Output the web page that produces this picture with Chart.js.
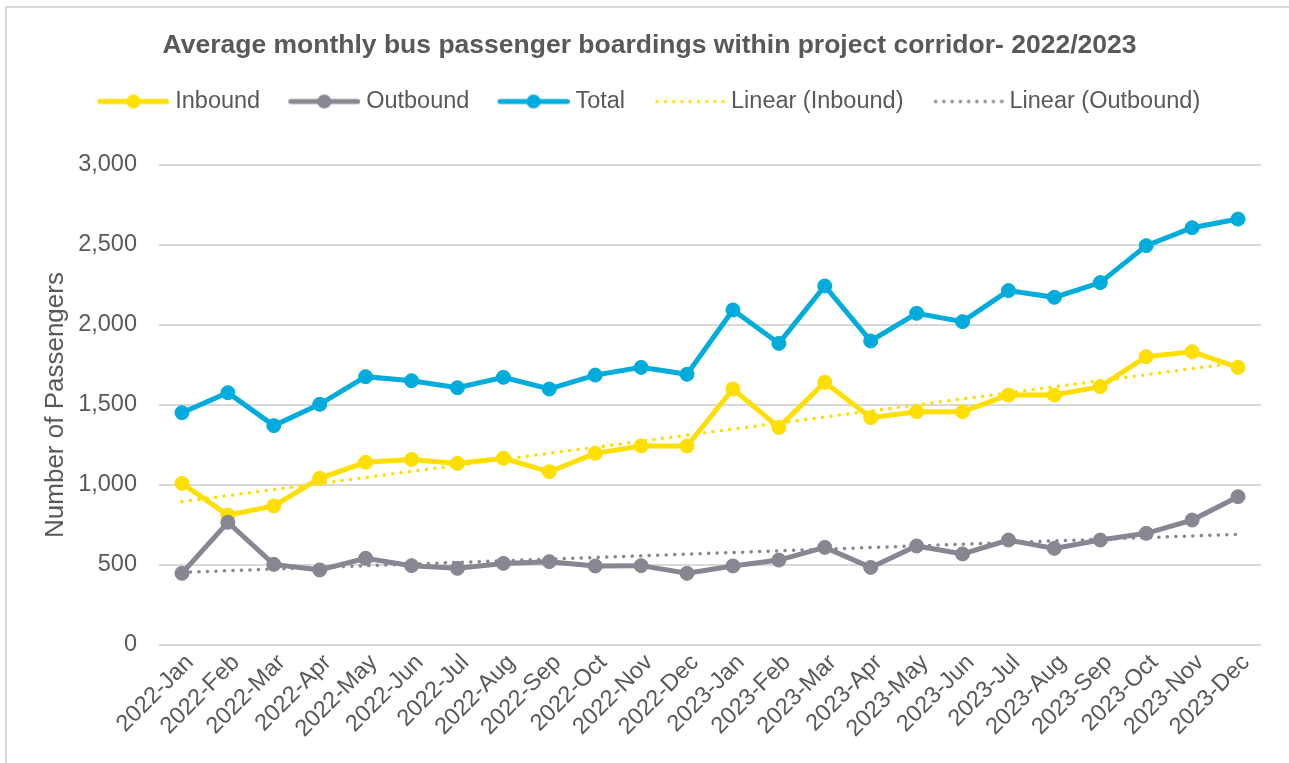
<!DOCTYPE html>
<html>
<head>
<meta charset="utf-8">
<script src="https://cdn.jsdelivr.net/npm/chart.js@4.4.1/dist/chart.umd.min.js"></script>
<style>
html,body{margin:0;padding:0;background:#fff;overflow:hidden;}
canvas{display:block;}
</style>
</head>
<body>
<canvas id="c" width="1289" height="763"></canvas>
<script>
const categories = ['2022-Jan','2022-Feb','2022-Mar','2022-Apr','2022-May','2022-Jun','2022-Jul','2022-Aug','2022-Sep','2022-Oct','2022-Nov','2022-Dec',
                    '2023-Jan','2023-Feb','2023-Mar','2023-Apr','2023-May','2023-Jun','2023-Jul','2023-Aug','2023-Sep','2023-Oct','2023-Nov','2023-Dec'];
const inbound  = [1010, 812, 869,1042,1142,1160,1135,1167,1083,1198,1244,1244,1600,1360,1642,1421,1458,1458,1562,1562,1615,1802,1833,1735];
const outbound = [ 448, 767, 504, 469, 542, 496, 479, 510, 521, 494, 496, 448, 494, 531, 610, 485, 619, 569, 656, 604, 656, 698, 781, 927];
const total    = [1452,1577,1371,1504,1677,1652,1608,1673,1600,1687,1735,1692,2094,1885,2244,1900,2073,2021,2215,2173,2265,2496,2608,2662];
const trendInbound  = [896, 1765];   // trend line ends (first / last month)
const trendOutbound = [454, 692];
const yTickLabels = ['0','500','1,000','1,500','2,000','2,500','3,000'];
const legendTexts = ['Inbound','Outbound','Total','Linear (Inbound)','Linear (Outbound)   '];

const YEL = '#FFDF00', GRY = '#868791', BLU = '#00ACDB', TXT = '#595959';
const FAM = "'Liberation Sans', Arial, sans-serif";
Chart.defaults.font.family = FAM;

function symbol(color, dotted, visW) {
  const W = 96, H = 18;
  const c = document.createElement('canvas'); c.width = W; c.height = H;
  const g = c.getContext('2d');
  const x0 = W - visW, x1 = W;
  g.fillStyle = color; g.strokeStyle = color;
  if (!dotted) {
    g.lineWidth = 5; g.lineCap = 'round';
    g.beginPath(); g.moveTo(x0 + 2.5, 9); g.lineTo(x1 - 2.5, 9); g.stroke();
    g.beginPath(); g.arc((x0 + x1) / 2, 9, 7, 0, Math.PI * 2); g.fill();
  } else {
    for (let i = 0; i < 9; i++) {
      const x = x0 + 2 + i * (visW - 4) / 8;
      g.beginPath(); g.arc(x, 9, 1.8, 0, Math.PI * 2); g.fill();
    }
  }
  return c;
}
const symbols = [symbol(YEL,false,72), symbol(GRY,false,72), symbol(BLU,false,72), symbol(YEL,true,70), symbol(GRY,true,70)];

const bgPlugin = {
  id: 'bgBorder',
  beforeDraw(chart) {
    const ctx = chart.ctx, w = chart.width, h = chart.height;
    ctx.save();
    ctx.fillStyle = '#fff'; ctx.fillRect(0, 0, w, h);
    ctx.fillStyle = '#D9D9D9';
    ctx.fillRect(5, 6, 2, h);
    ctx.fillRect(5, 6, w, 2);
    ctx.restore();
  }
};

function lineDs(label, data, color, order) {
  return { label, data, borderColor: color, backgroundColor: color, borderWidth: 5,
    pointRadius: 7, pointBorderWidth: 1, pointBackgroundColor: color, pointBorderColor: color,
    tension: 0, order };
}
function trendDs(label, ends, color, order) {
  return { label, data: [{x: categories[0], y: ends[0]}, {x: categories[categories.length - 1], y: ends[1]}],
    borderColor: color, backgroundColor: color, borderWidth: 3.5, borderDash: [0.1, 8.4], borderCapStyle: 'round',
    pointRadius: 0, tension: 0, order };
}

new Chart(document.getElementById('c'), {
  type: 'line',
  data: {
    labels: categories,
    datasets: [
      lineDs('Inbound', inbound, YEL, 5),
      lineDs('Outbound', outbound, GRY, 4),
      lineDs('Total', total, BLU, 3),
      trendDs('Linear (Inbound)', trendInbound, YEL, 2),
      trendDs('Linear (Outbound)', trendOutbound, GRY, 1)
    ]
  },
  options: {
    responsive: false,
    animation: false,
    events: [],
    layout: { padding: { left: 38, right: 28, top: 0, bottom: 0 } },
    plugins: {
      tooltip: { enabled: false },
      title: { display: true, text: 'Average monthly bus passenger boardings within project corridor- 2022/2023',
        color: TXT, font: { size: 26.5, weight: 'bold', lineHeight: 1.2 }, padding: { top: 29.4, bottom: 18.55 } },
      subtitle: { display: true, text: '', position: 'top', weight: 100, font: { size: 1, lineHeight: 1 }, padding: { top: 40.75, bottom: 0 } },
      legend: {
        display: true, position: 'top',
        labels: {
          usePointStyle: true, pointStyleWidth: 84.25, padding: 10,
          font: { size: 23.5 }, color: TXT,
          generateLabels: (chart) => chart.data.datasets.map((ds, i) => ({
            text: legendTexts[i], pointStyle: symbols[i], datasetIndex: i, hidden: false,
            lineWidth: 0, fillStyle: 'rgba(0,0,0,0)', strokeStyle: 'rgba(0,0,0,0)', fontColor: TXT
          }))
        }
      }
    },
    scales: {
      x: {
        offset: true,
        grid: { display: false, drawTicks: false },
        border: { display: false },
        ticks: { color: TXT, font: { size: 23.5 }, minRotation: 45, maxRotation: 45, autoSkip: false, padding: 4, labelOffset: 8 },
        afterFit: (s) => { s.height = 118; }
      },
      y: {
        min: 0, max: 3000,
        grid: { color: '#D9D9D9', lineWidth: 2, drawTicks: false },
        border: { display: false },
        ticks: { stepSize: 500, color: TXT, font: { size: 23.5 }, padding: 22, callback: (v, i) => yTickLabels[i] },
        title: { display: true, text: 'Number of Passengers', color: TXT, font: { size: 26 }, padding: { top: 2.5, bottom: 0 } },
        afterFit: (s) => { s.width = 121; }
      }
    }
  },
  plugins: [bgPlugin]
});
</script>
</body>
</html>
